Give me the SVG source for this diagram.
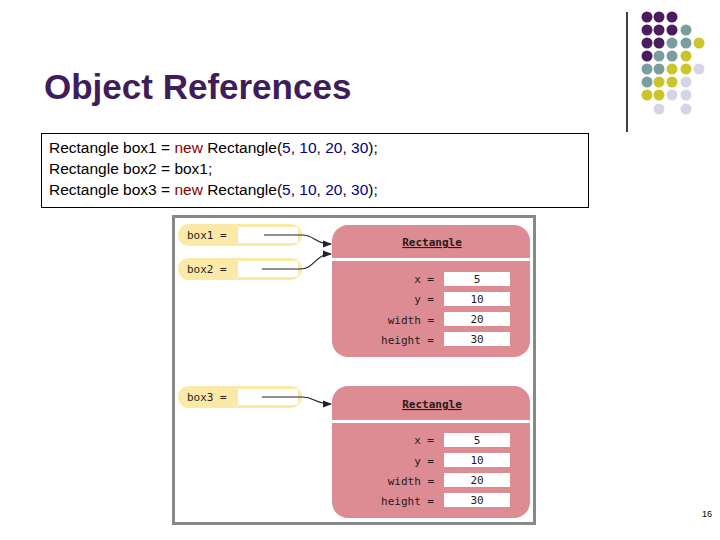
<svg xmlns="http://www.w3.org/2000/svg" width="720" height="540" viewBox="0 0 720 540">
<style>
.code{font-family:"Liberation Sans",Arial,sans-serif;font-size:15.5px;fill:#000}
.kw{fill:#8b0000}.num{fill:#00008b}
.mono{font-family:"DejaVu Sans Mono",monospace;font-size:11px;fill:#2a1a1a}
.lbl{fill:#fbe9a8}
.obj{fill:#dc8c92}
.fld{fill:#fff}
.P{fill:#4b1d5f}.T{fill:#7a9e9f}.Y{fill:#c9c52a}.L{fill:#d5d5e6}
</style>
<defs><marker id="ah" markerWidth="8" markerHeight="6" refX="7" refY="3" orient="auto"><path d="M0,0 L8,3 L0,6 z" fill="#222"/></marker></defs>
<rect width="720" height="540" fill="#fff"/>
<g id="deco">
<line x1="627" y1="12" x2="627" y2="132" stroke="#000" stroke-width="1.5"/>
<g>
<circle class="P" cx="647" cy="17" r="5.5"/><circle class="P" cx="659" cy="17" r="5.5"/><circle class="P" cx="672" cy="17" r="5.5"/>
<circle class="P" cx="647" cy="30" r="5.5"/><circle class="P" cx="659" cy="30" r="5.5"/><circle class="P" cx="672" cy="30" r="5.5"/><circle class="T" cx="686" cy="30" r="5.5"/>
<circle class="P" cx="647" cy="43" r="5.5"/><circle class="P" cx="659" cy="43" r="5.5"/><circle class="T" cx="672" cy="43" r="5.5"/><circle class="T" cx="686" cy="43" r="5.5"/><circle class="Y" cx="699" cy="43" r="5.5"/>
<circle class="P" cx="647" cy="56" r="5.5"/><circle class="T" cx="659" cy="56" r="5.5"/><circle class="T" cx="672" cy="56" r="5.5"/><circle class="Y" cx="686" cy="56" r="5.5"/>
<circle class="T" cx="647" cy="69" r="5.5"/><circle class="T" cx="659" cy="69" r="5.5"/><circle class="Y" cx="672" cy="69" r="5.5"/><circle class="Y" cx="686" cy="69" r="5.5"/><circle class="L" cx="699" cy="69" r="5.5"/>
<circle class="T" cx="647" cy="82" r="5.5"/><circle class="Y" cx="659" cy="82" r="5.5"/><circle class="Y" cx="672" cy="82" r="5.5"/><circle class="L" cx="686" cy="82" r="5.5"/>
<circle class="Y" cx="647" cy="95" r="5.5"/><circle class="Y" cx="659" cy="95" r="5.5"/><circle class="L" cx="672" cy="95" r="5.5"/><circle class="L" cx="686" cy="95" r="5.5"/>
<circle class="L" cx="659" cy="109" r="5.5"/><circle class="L" cx="686" cy="109" r="5.5"/>
</g>
</g>
<text x="44" y="99" font-family="Liberation Sans,Arial,sans-serif" font-size="35" font-weight="bold" fill="#3f1d5a">Object References</text>
<g id="code">
<rect x="41.5" y="133.5" width="547" height="74" fill="#fff" stroke="#000"/>
<text class="code" x="49" y="153">Rectangle box1 = <tspan class="kw">new</tspan> Rectangle(<tspan class="num">5</tspan>, <tspan class="num">10</tspan>, <tspan class="num">20</tspan>, <tspan class="num">30</tspan>);</text>
<text class="code" x="49" y="174">Rectangle box2 = box1;</text>
<text class="code" x="49" y="195">Rectangle box3 = <tspan class="kw">new</tspan> Rectangle(<tspan class="num">5</tspan>, <tspan class="num">10</tspan>, <tspan class="num">20</tspan>, <tspan class="num">30</tspan>);</text>
</g>
<rect x="173.5" y="216.5" width="361" height="307" fill="#fff" stroke="#888" stroke-width="3"/>
<g id="box1"><rect class="lbl" x="178" y="224" width="124" height="22" rx="11"/><rect class="fld" x="238" y="227" width="60" height="16"/><text class="mono" x="187" y="239">box1 =</text></g>
<g id="box2"><rect class="lbl" x="178" y="258" width="124" height="22" rx="11"/><rect class="fld" x="238" y="261" width="60" height="16"/><text class="mono" x="187" y="273">box2 =</text></g>
<g id="box3"><rect class="lbl" x="178" y="386" width="124" height="22" rx="11"/><rect class="fld" x="238" y="389" width="60" height="16"/><text class="mono" x="187" y="401">box3 =</text></g>
<g id="rect1">
<path class="obj" d="M348,225 H514 a16,16 0 0 1 16,16 V258 H332 V241 a16,16 0 0 1 16,-16 z"/>
<path class="obj" d="M332,261 H530 V341 a16,16 0 0 1 -16,16 H348 a16,16 0 0 1 -16,-16 z"/>
<text class="mono" x="432" y="246" text-anchor="middle" font-size="13" text-decoration="underline" font-weight="bold">Rectangle</text>
<g text-anchor="end"><text class="mono" x="434" y="283">x =</text><text class="mono" x="434" y="303">y =</text><text class="mono" x="434" y="324">width =</text><text class="mono" x="434" y="344">height =</text></g>
<rect class="fld" x="444" y="272" width="66" height="14"/><rect class="fld" x="444" y="292" width="66" height="14"/><rect class="fld" x="444" y="312" width="66" height="14"/><rect class="fld" x="444" y="332" width="66" height="14"/>
<g text-anchor="middle"><text class="mono" x="477" y="283">5</text><text class="mono" x="477" y="303">10</text><text class="mono" x="477" y="323">20</text><text class="mono" x="477" y="343">30</text></g>
</g>
<g id="rect2">
<path class="obj" d="M348,386 H514 a16,16 0 0 1 16,16 V420 H332 V402 a16,16 0 0 1 16,-16 z"/>
<path class="obj" d="M332,423 H530 V502 a16,16 0 0 1 -16,16 H348 a16,16 0 0 1 -16,-16 z"/>
<text class="mono" x="432" y="408" text-anchor="middle" font-size="13" text-decoration="underline" font-weight="bold">Rectangle</text>
<g text-anchor="end"><text class="mono" x="434" y="444">x =</text><text class="mono" x="434" y="465">y =</text><text class="mono" x="434" y="485">width =</text><text class="mono" x="434" y="505">height =</text></g>
<rect class="fld" x="444" y="433" width="66" height="14"/><rect class="fld" x="444" y="453" width="66" height="14"/><rect class="fld" x="444" y="473" width="66" height="14"/><rect class="fld" x="444" y="493" width="66" height="14"/>
<g text-anchor="middle"><text class="mono" x="477" y="444">5</text><text class="mono" x="477" y="464">10</text><text class="mono" x="477" y="484">20</text><text class="mono" x="477" y="504">30</text></g>
</g>
<g id="connectors" fill="none" stroke="#222" stroke-width="1.2" marker-end="url(#ah)">
<path d="M264,235 H302 C315,235 315,244 331,244"/>
<path d="M262,269 H300 C315,269 315,254 331,254"/>
<path d="M262,397 H302 C315,397 315,404 331,404"/>
</g>
<text x="712" y="517" text-anchor="end" font-family="Liberation Sans,Arial,sans-serif" font-size="9">16</text>
</svg>
